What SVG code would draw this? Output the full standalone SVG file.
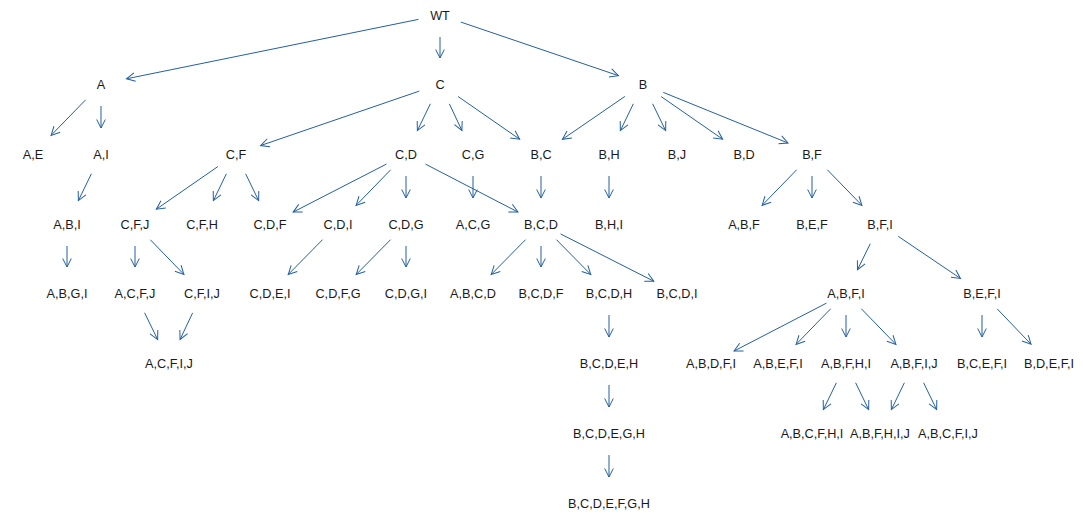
<svg xmlns="http://www.w3.org/2000/svg" width="1083" height="519" viewBox="0 0 1083 519">
<style>
text{font-family:"Liberation Sans",Arial,Helvetica,sans-serif;font-size:12.7px;fill:#1a1a1a;text-anchor:middle}
.e line{stroke:#23609e;stroke-width:1;fill:none;marker-end:url(#ah)}
</style>
<defs>
<marker id="ah" viewBox="-10 -6 12 12" refX="0" refY="0" markerWidth="12" markerHeight="12" markerUnits="userSpaceOnUse" orient="auto">
<path d="M-8.5,-4.3 L0,0 L-8.5,4.3" fill="none" stroke="#23609e" stroke-width="1"/>
</marker>
</defs>
<rect width="1083" height="519" fill="#ffffff"/>
<g id="connectors" class="e">
<line x1="418.44" y1="19.39" x2="126.48" y2="78.81"/>
<line x1="440" y1="37" x2="440" y2="58"/>
<line x1="460.83" y1="22.08" x2="618.38" y2="75.63"/>
<line x1="85.67" y1="99.78" x2="51.12" y2="135.35"/>
<line x1="101" y1="106" x2="101" y2="128"/>
<line x1="91.39" y1="173.79" x2="78.36" y2="200.61"/>
<line x1="67" y1="246" x2="67" y2="267"/>
<line x1="419.19" y1="91.14" x2="260.59" y2="145.56"/>
<line x1="430.39" y1="103.79" x2="417.36" y2="130.61"/>
<line x1="449.38" y1="103.9" x2="461.91" y2="130.48"/>
<line x1="458.08" y1="96.53" x2="519.63" y2="139.19"/>
<line x1="624.86" y1="96.45" x2="562.44" y2="139.29"/>
<line x1="633.39" y1="103.79" x2="620.36" y2="130.61"/>
<line x1="652.61" y1="103.79" x2="665.64" y2="130.61"/>
<line x1="661.08" y1="96.53" x2="722.63" y2="139.19"/>
<line x1="663.33" y1="92.42" x2="787.98" y2="143"/>
<line x1="217.92" y1="166.53" x2="156.37" y2="209.19"/>
<line x1="226.39" y1="173.79" x2="213.36" y2="200.61"/>
<line x1="245.61" y1="173.79" x2="258.64" y2="200.61"/>
<line x1="135" y1="246" x2="135" y2="267"/>
<line x1="150.33" y1="239.78" x2="183.89" y2="274.35"/>
<line x1="144.61" y1="312.79" x2="157.64" y2="339.61"/>
<line x1="192.62" y1="312.9" x2="180.09" y2="339.48"/>
<line x1="386.44" y1="164.07" x2="293.12" y2="212.1"/>
<line x1="390.67" y1="169.78" x2="356.12" y2="205.35"/>
<line x1="406" y1="176" x2="406" y2="198"/>
<line x1="425.53" y1="164.13" x2="517.92" y2="212.03"/>
<line x1="473" y1="176" x2="473" y2="198"/>
<line x1="541" y1="176" x2="541" y2="198"/>
<line x1="609" y1="176" x2="609" y2="198"/>
<line x1="322.56" y1="239.67" x2="288.25" y2="274.48"/>
<line x1="390.56" y1="239.67" x2="356.25" y2="274.48"/>
<line x1="406" y1="246" x2="406" y2="267"/>
<line x1="525.56" y1="239.67" x2="491.25" y2="274.48"/>
<line x1="541" y1="246" x2="541" y2="267"/>
<line x1="556.44" y1="239.67" x2="590.75" y2="274.48"/>
<line x1="560.62" y1="233.95" x2="653.81" y2="281.24"/>
<line x1="609" y1="315" x2="609" y2="337"/>
<line x1="609" y1="385" x2="609" y2="407"/>
<line x1="609" y1="455" x2="609" y2="477"/>
<line x1="796.67" y1="169.78" x2="762.12" y2="205.35"/>
<line x1="812" y1="176" x2="812" y2="198"/>
<line x1="827.33" y1="169.78" x2="861.88" y2="205.35"/>
<line x1="870.28" y1="243.73" x2="857.49" y2="269.68"/>
<line x1="898.22" y1="236.33" x2="960.46" y2="278.43"/>
<line x1="826.47" y1="303.13" x2="734.08" y2="351.03"/>
<line x1="830.67" y1="308.78" x2="796.12" y2="344.35"/>
<line x1="846" y1="315" x2="846" y2="337"/>
<line x1="861.33" y1="308.78" x2="895.88" y2="344.35"/>
<line x1="982" y1="315" x2="982" y2="337"/>
<line x1="997.21" y1="308.89" x2="1031.02" y2="344.22"/>
<line x1="836.39" y1="382.79" x2="823.36" y2="409.61"/>
<line x1="855.61" y1="382.79" x2="868.64" y2="409.61"/>
<line x1="904.39" y1="382.79" x2="891.36" y2="409.61"/>
<line x1="923.61" y1="382.79" x2="936.64" y2="409.61"/>
</g>
<g id="n-WT"><text x="440" y="19.6">WT</text></g>
<g id="n-A"><text x="101" y="88.6">A</text></g>
<g id="n-C"><text x="440" y="88.6">C</text></g>
<g id="n-B"><text x="643" y="88.6">B</text></g>
<g id="n-AE"><text x="33" y="158.6">A,E</text></g>
<g id="n-AI"><text x="101" y="158.6">A,I</text></g>
<g id="n-CF"><text x="236" y="158.6">C,F</text></g>
<g id="n-CD"><text x="406" y="158.6">C,D</text></g>
<g id="n-CG"><text x="473" y="158.6">C,G</text></g>
<g id="n-BC"><text x="541" y="158.6">B,C</text></g>
<g id="n-BH"><text x="609" y="158.6">B,H</text></g>
<g id="n-BJ"><text x="677" y="158.6">B,J</text></g>
<g id="n-BD"><text x="744" y="158.6">B,D</text></g>
<g id="n-BF"><text x="812" y="158.6">B,F</text></g>
<g id="n-ABI"><text x="67" y="228.6">A,B,I</text></g>
<g id="n-CFJ"><text x="135" y="228.6">C,F,J</text></g>
<g id="n-CFH"><text x="202" y="228.6">C,F,H</text></g>
<g id="n-CDF"><text x="270" y="228.6">C,D,F</text></g>
<g id="n-CDI"><text x="338" y="228.6">C,D,I</text></g>
<g id="n-CDG"><text x="406" y="228.6">C,D,G</text></g>
<g id="n-ACG"><text x="473" y="228.6">A,C,G</text></g>
<g id="n-BCD"><text x="541" y="228.6">B,C,D</text></g>
<g id="n-BHI"><text x="609" y="228.6">B,H,I</text></g>
<g id="n-ABF"><text x="744" y="228.6">A,B,F</text></g>
<g id="n-BEF"><text x="812" y="228.6">B,E,F</text></g>
<g id="n-BFI"><text x="880" y="228.6">B,F,I</text></g>
<g id="n-ABGI"><text x="67" y="297.6">A,B,G,I</text></g>
<g id="n-ACFJ"><text x="135" y="297.6">A,C,F,J</text></g>
<g id="n-CFIJ"><text x="202" y="297.6">C,F,I,J</text></g>
<g id="n-CDEI"><text x="270" y="297.6">C,D,E,I</text></g>
<g id="n-CDFG"><text x="338" y="297.6">C,D,F,G</text></g>
<g id="n-CDGI"><text x="406" y="297.6">C,D,G,I</text></g>
<g id="n-ABCD"><text x="473" y="297.6">A,B,C,D</text></g>
<g id="n-BCDF"><text x="541" y="297.6">B,C,D,F</text></g>
<g id="n-BCDH"><text x="609" y="297.6">B,C,D,H</text></g>
<g id="n-BCDI"><text x="677" y="297.6">B,C,D,I</text></g>
<g id="n-ABFI"><text x="846" y="297.6">A,B,F,I</text></g>
<g id="n-BEFI"><text x="982" y="297.6">B,E,F,I</text></g>
<g id="n-ACFIJ"><text x="169" y="367.6">A,C,F,I,J</text></g>
<g id="n-BCDEH"><text x="609" y="367.6">B,C,D,E,H</text></g>
<g id="n-ABDFI"><text x="711" y="367.6">A,B,D,F,I</text></g>
<g id="n-ABEFI"><text x="778" y="367.6">A,B,E,F,I</text></g>
<g id="n-ABFHI"><text x="846" y="367.6">A,B,F,H,I</text></g>
<g id="n-ABFIJ"><text x="914" y="367.6">A,B,F,I,J</text></g>
<g id="n-BCEFI"><text x="982" y="367.6">B,C,E,F,I</text></g>
<g id="n-BDEFI"><text x="1049" y="367.6">B,D,E,F,I</text></g>
<g id="n-BCDEGH"><text x="609" y="437.6">B,C,D,E,G,H</text></g>
<g id="n-ABCFHI"><text x="812" y="437.6">A,B,C,F,H,I</text></g>
<g id="n-ABFHIJ"><text x="880" y="437.6">A,B,F,H,I,J</text></g>
<g id="n-ABCFIJ"><text x="948" y="437.6">A,B,C,F,I,J</text></g>
<g id="n-BCDEFGH"><text x="609" y="507.6">B,C,D,E,F,G,H</text></g>
</svg>
